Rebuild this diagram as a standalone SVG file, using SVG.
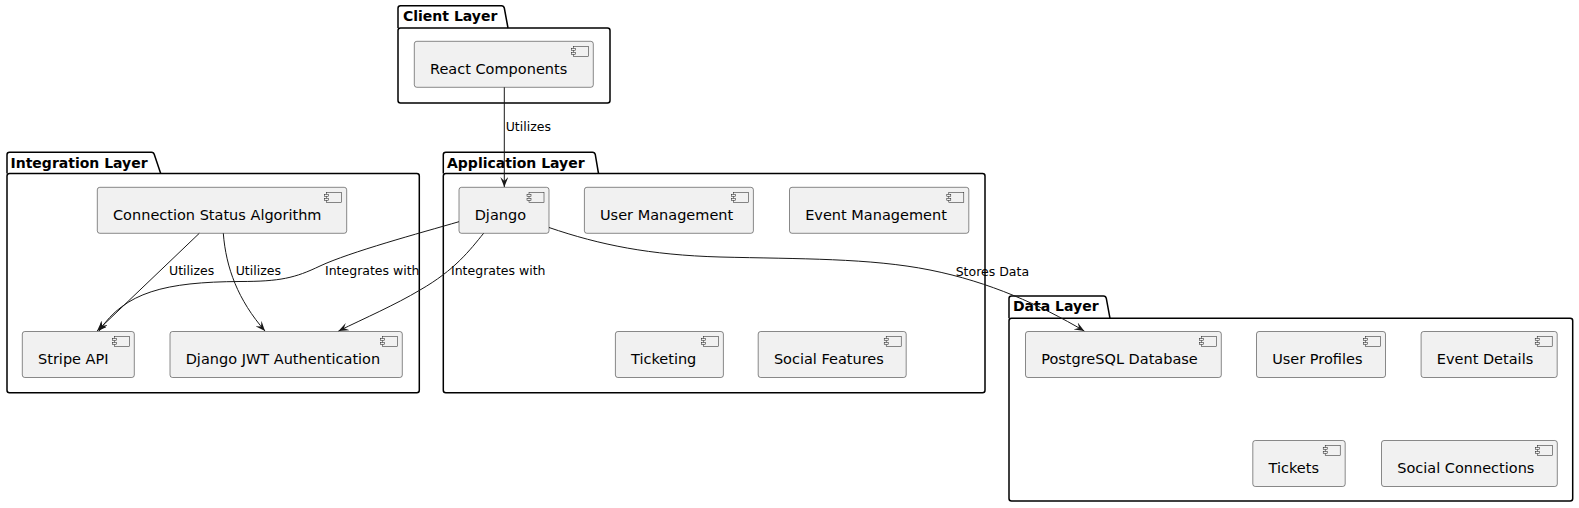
<svg xmlns="http://www.w3.org/2000/svg" width="1579" height="508" viewBox="0 0 1579 508">
<style>
.pkg{fill:none;stroke:#000;stroke-width:1.5}
.ptitle{font-family:"DejaVu Sans",sans-serif;font-size:14px;font-weight:bold;fill:#000}
.comp{fill:#F1F1F1;stroke:#181818;stroke-width:0.5}
.ico{fill:#F1F1F1;stroke:#181818;stroke-width:0.5}
.ctext{font-family:"DejaVu Sans",sans-serif;font-size:14.5px;fill:#000}
.edge{fill:none;stroke:#181818;stroke-width:1}
.elabel{font-family:"DejaVu Sans",sans-serif;font-size:12.5px;fill:#000}
</style>
<defs>
<marker id="arr" viewBox="0 0 10 8" refX="10" refY="4" markerWidth="10" markerHeight="8" markerUnits="userSpaceOnUse" orient="auto">
<path d="M0,0 L10,4 L0,8 L4,4 Z" fill="#181818"/>
</marker>
<g id="icon">
<rect class="ico" x="-20" y="5" width="15" height="10"/>
<rect class="ico" x="-22" y="7" width="4" height="2"/>
<rect class="ico" x="-22" y="11" width="4" height="2"/>
</g>
</defs>
<rect width="1579" height="508" fill="#FFFFFF"/>

<g id="pkg-client">
<path class="pkg" d="M398,28 V8.2 Q398,5.7 400.5,5.7 H501.5 Q503.8,5.7 504.3,8 L508,28"/>
<rect class="pkg" x="398" y="28" width="212" height="75" rx="2.5"/>
<text class="ptitle" x="403" y="21">Client Layer</text>
</g>
<g id="pkg-integration">
<path class="pkg" d="M7,173.5 V154.8 Q7,152.3 9.5,152.3 H151.5 Q153.8,152.3 154.3,154.6 L160.7,173.5"/>
<rect class="pkg" x="7" y="173.5" width="412.3" height="219.2" rx="2.5"/>
<text class="ptitle" x="10.5" y="167.6">Integration Layer</text>
</g>
<g id="pkg-application">
<path class="pkg" d="M443.3,173.5 V154.8 Q443.3,152.3 445.8,152.3 H592.5 Q594.8,152.3 595.3,154.6 L598.5,173.5"/>
<rect class="pkg" x="443.3" y="173.5" width="541.7" height="219.2" rx="2.5"/>
<text class="ptitle" x="447" y="167.6">Application Layer</text>
</g>
<g id="pkg-data">
<path class="pkg" d="M1009,318.3 V298.5 Q1009,296 1011.5,296 H1103.5 Q1105.8,296 1106.3,298.3 L1110,318.3"/>
<rect class="pkg" x="1009" y="318.3" width="563.7" height="182.7" rx="2.5"/>
<text class="ptitle" x="1013" y="311.4">Data Layer</text>
</g>

<g id="react-components">
<rect class="comp" x="414.3" y="41.3" width="179" height="46" rx="2.5"/>
<use href="#icon" x="593.3" y="41.3"/>
<text class="ctext" x="430" y="73.8">React Components</text>
</g>
<g id="connection-status-algorithm">
<rect class="comp" x="97.3" y="187.3" width="249.4" height="46" rx="2.5"/>
<use href="#icon" x="346.7" y="187.3"/>
<text class="ctext" x="113" y="219.8">Connection Status Algorithm</text>
</g>
<g id="stripe-api">
<rect class="comp" x="22.3" y="331.5" width="112" height="46" rx="2.5"/>
<use href="#icon" x="134.3" y="331.5"/>
<text class="ctext" x="38" y="364">Stripe API</text>
</g>
<g id="django-jwt-authentication">
<rect class="comp" x="170" y="331.5" width="232.3" height="46" rx="2.5"/>
<use href="#icon" x="402.3" y="331.5"/>
<text class="ctext" x="185.7" y="364">Django JWT Authentication</text>
</g>
<g id="django">
<rect class="comp" x="459" y="187.3" width="90" height="46" rx="2.5"/>
<use href="#icon" x="549" y="187.3"/>
<text class="ctext" x="474.7" y="219.8">Django</text>
</g>
<g id="user-management">
<rect class="comp" x="584.4" y="187.3" width="169" height="46" rx="2.5"/>
<use href="#icon" x="753.4" y="187.3"/>
<text class="ctext" x="600" y="219.8">User Management</text>
</g>
<g id="event-management">
<rect class="comp" x="789.5" y="187.3" width="179.3" height="46" rx="2.5"/>
<use href="#icon" x="968.8" y="187.3"/>
<text class="ctext" x="805.2" y="219.8">Event Management</text>
</g>
<g id="ticketing">
<rect class="comp" x="615.4" y="331.5" width="108" height="46" rx="2.5"/>
<use href="#icon" x="723.4" y="331.5"/>
<text class="ctext" x="631" y="364">Ticketing</text>
</g>
<g id="social-features">
<rect class="comp" x="758.2" y="331.5" width="148" height="46" rx="2.5"/>
<use href="#icon" x="906.2" y="331.5"/>
<text class="ctext" x="773.9" y="364">Social Features</text>
</g>
<g id="postgresql-database">
<rect class="comp" x="1025.5" y="331.5" width="195.8" height="46" rx="2.5"/>
<use href="#icon" x="1221.3" y="331.5"/>
<text class="ctext" x="1041.2" y="364">PostgreSQL Database</text>
</g>
<g id="user-profiles">
<rect class="comp" x="1256.5" y="331.5" width="129" height="46" rx="2.5"/>
<use href="#icon" x="1385.5" y="331.5"/>
<text class="ctext" x="1272.2" y="364">User Profiles</text>
</g>
<g id="event-details">
<rect class="comp" x="1421.1" y="331.5" width="136.1" height="46" rx="2.5"/>
<use href="#icon" x="1557.2" y="331.5"/>
<text class="ctext" x="1436.8" y="364">Event Details</text>
</g>
<g id="tickets">
<rect class="comp" x="1252.8" y="440.5" width="92.4" height="46" rx="2.5"/>
<use href="#icon" x="1345.2" y="440.5"/>
<text class="ctext" x="1268.5" y="473">Tickets</text>
</g>
<g id="social-connections">
<rect class="comp" x="1381.5" y="440.5" width="175.8" height="46" rx="2.5"/>
<use href="#icon" x="1557.3" y="440.5"/>
<text class="ctext" x="1397.2" y="473">Social Connections</text>
</g>

<g id="connectors">
<path class="edge" marker-end="url(#arr)" d="M504.3,87.3 L504.3,187"/>
<text class="elabel" x="505.7" y="131">Utilizes</text>
<path class="edge" marker-end="url(#arr)" d="M199.3,233.3 L97,331"/>
<text class="elabel" x="169" y="275">Utilizes</text>
<path class="edge" marker-end="url(#arr)" d="M223.3,233.3 C226,268 238,300 265,331"/>
<text class="elabel" x="235.7" y="275">Utilizes</text>
<path class="edge" marker-end="url(#arr)" d="M459,221.7 C420,233 350,252 320,266 C295,278 280,281.5 240,281.5 C165,282 125,292 99,331"/>
<text class="elabel" x="325" y="275">Integrates with</text>
<path class="edge" marker-end="url(#arr)" d="M483.6,233.3 C470,250 455,270 420,290 C395,305 365,318 338.5,331"/>
<text class="elabel" x="451" y="275">Integrates with</text>
<path class="edge" marker-end="url(#arr)" d="M549,227.5 C600,245 650,255 720,257 C800,259 870,258 930,270 C990,282 1040,305 1084.3,331"/>
<text class="elabel" x="955.7" y="276">Stores Data</text>
</g>
</svg>
